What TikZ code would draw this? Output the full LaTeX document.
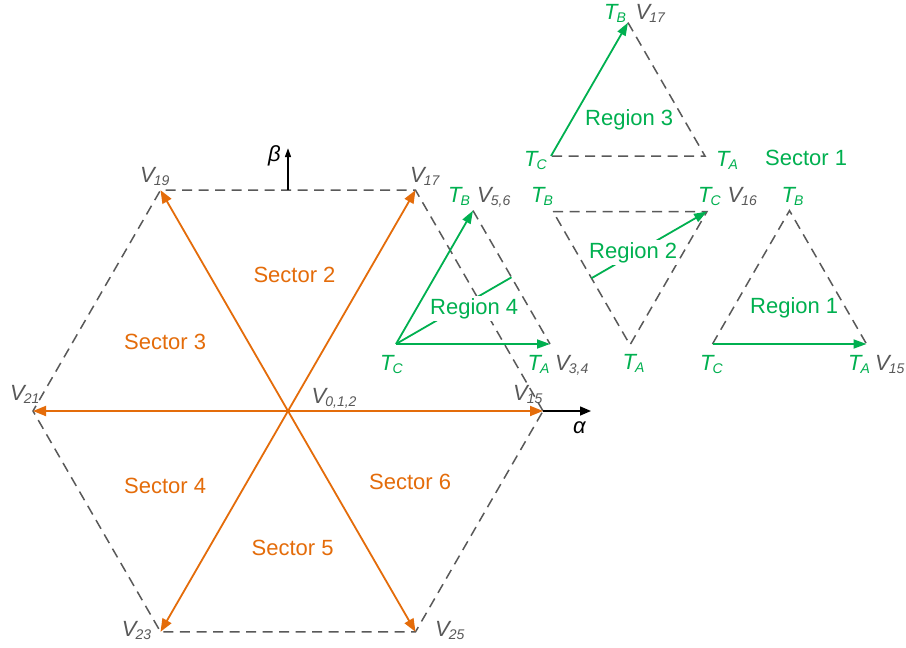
\documentclass[tikz,border=0pt]{standalone}
\usepackage{fontspec}
\setmainfont{Liberation Sans}
\usepackage{xcolor}
\usepackage{tikz}
\usetikzlibrary{arrows.meta, calc}

\definecolor{secorange}{RGB}{228,108,10}
\definecolor{reggreen}{RGB}{0,176,80}
\definecolor{dashgray}{RGB}{89,89,89}

% italic letter with a lowered italic index
\newcommand{\lsub}[2]{{\itshape #1}\kern-1pt\raisebox{-3pt}{\fontsize{14}{14}\selectfont\itshape #2}}

\begin{document}
\begin{tikzpicture}[x=1pt,y=-1pt,
  txt/.style={anchor=base west,inner sep=0pt,font=\fontsize{22}{26}\selectfont},
  vlbl/.style={txt,dashgray},
  tlbl/.style={txt,reggreen},
  seclbl/.style={txt,secorange},
  reglbl/.style={txt,reggreen,fill=white,inner sep=2pt},
  sector/.style={secorange,line width=1.8pt,-{Triangle[length=13pt,width=10pt]}},
  region/.style={reggreen,line width=1.8pt,-{Triangle[length=13pt,width=9pt]}},
  leader/.style={reggreen,line width=1.8pt},
  edge/.style={dashgray,line width=1.5pt,dash pattern=on 10pt off 6.5pt},
  axis/.style={black,line width=1.5pt,-{Triangle[length=11pt,width=9pt]}}]

  \path[use as bounding box,fill=white] (0,0) rectangle (906,648);

  % Hexagon center and corners
  \coordinate (O) at (288,411);
  \coordinate (V15) at ($(O)+(0:255)$);
  \coordinate (V17) at ($(O)+(-60:255)$);
  \coordinate (V19) at ($(O)+(-120:255)$);
  \coordinate (V21) at ($(O)+(180:255)$);
  \coordinate (V23) at ($(O)+(120:255)$);
  \coordinate (V25) at ($(O)+(60:255)$);

  % Outer hexagon
  \draw[edge] (V15) -- (V17) -- (V19) -- (V21) -- (V23) -- (V25) -- cycle;

  % Six active vectors
  \draw[sector] (O) -- (V15);
  \draw[sector] (O) -- (V17);
  \draw[sector] (O) -- (V19);
  \draw[sector] (O) -- (V21);
  \draw[sector] (O) -- (V23);
  \draw[sector] (O) -- (V25);

  % alpha and beta axes
  \coordinate (betaBase) at ($(V19)!0.5!(V17)$);
  \coordinate (betaTip) at ($(betaBase)+(0,-42)$);
  \coordinate (alphaTip) at ($(V15)+(48,0)$);
  \draw[axis,-{Triangle[length=9pt,width=6pt]}] (betaBase) -- (betaTip);
  \draw[axis] (V15) -- (alphaTip);
  \node[txt] (betaLbl) at (268,161) {\textit{β}};
  \node[txt] (alphaLbl) at (573,433) {\textit{α}};

  % Vector labels
  \node[vlbl] (lV19) at (140,182.3) {\lsub{V}{19}};
  \node[vlbl] (lV17) at (410,182.3) {\lsub{V}{17}};
  \node[vlbl] (lV21) at (10,400) {\lsub{V}{21}};
  \node[vlbl] (lV15) at (513,400.5) {\lsub{V}{15}};
  \node[vlbl] (lV0) at (311.5,403.3) {\lsub{V}{0,1,2}};
  \node[vlbl] (lV23) at (121.7,636.7) {\lsub{V}{23}};
  \node[vlbl] (lV25) at (435,636.5) {\lsub{V}{25}};

  % Sector names
  \node[seclbl] (sec2) at (253.3,282.7) {Sector 2};
  \node[seclbl] (sec3) at (124,349) {Sector 3};
  \node[seclbl] (sec4) at (124,493) {Sector 4};
  \node[seclbl] (sec5) at (251.5,555) {Sector 5};
  \node[seclbl] (sec6) at (369,489) {Sector 6};

  % Region 4 (B up, A right)
  \coordinate (r4C) at (396,344);
  \coordinate (r4A) at (550,344);
  \coordinate (r4B) at (473,210.6);
  \coordinate (r4M) at ($(r4B)!0.5!(r4A)$);
  \draw[edge] (r4B) -- (r4A);
  \draw[region] (r4C) -- (r4B);
  \draw[region] (r4C) -- (r4A);
  \draw[leader] (r4C) -- (r4M);
  \node[reglbl] (reg4) at (428,314) {Region 4};

  % Region 3
  \coordinate (r3C) at (551,156);
  \coordinate (r3A) at (705,156);
  \coordinate (r3B) at (628,22.6);
  \draw[edge] (r3B) -- (r3A) -- (r3C);
  \draw[region] (r3C) -- (r3B);
  \node[tlbl] (reg3) at (585,125) {Region 3};

  % Region 2 (upside down)
  \coordinate (r2B) at (553,211.5);
  \coordinate (r2C) at (707,211.5);
  \coordinate (r2A) at (630,344.9);
  \coordinate (r2M) at ($(r2B)!0.5!(r2A)$);
  \draw[edge] (r2B) -- (r2C) -- (r2A) -- cycle;
  \draw[region] (r2M) -- (r2C);
  \node[reglbl] (reg2) at (587,258.3) {Region 2};

  % Region 1
  \coordinate (r1C) at (712.5,344);
  \coordinate (r1A) at (866.5,344);
  \coordinate (r1B) at (789.5,210.6);
  \draw[edge] (r1C) -- (r1B) -- (r1A);
  \draw[region] (r1C) -- (r1A);
  \node[tlbl] (reg1) at (750,313.3) {Region 1};

  \node[tlbl] (sec1) at (765,165) {Sector 1};

  % Corner labels of the small triangles
  \node[tlbl] (r4BL) at (448,202) {\lsub{T}{B}};
  \node[vlbl] (r4BV) at (477,202) {\lsub{V}{5,6}};
  \node[tlbl] (r4CL) at (380,370) {\lsub{T}{C}};
  \node[tlbl] (r4AL) at (527.5,370) {\lsub{T}{A}};
  \node[vlbl] (r4AV) at (555,370) {\lsub{V}{3,4}};

  \node[tlbl] (r3BL) at (604,19.5) {\lsub{T}{B}};
  \node[vlbl] (r3BV) at (635.5,19.5) {\lsub{V}{17}};
  \node[tlbl] (r3CL) at (524,166) {\lsub{T}{C}};
  \node[tlbl] (r3AL) at (716,166.5) {\lsub{T}{A}};

  \node[tlbl] (r2BL) at (531,202) {\lsub{T}{B}};
  \node[tlbl] (r2CL) at (698,202.5) {\lsub{T}{C}};
  \node[vlbl] (r2CV) at (727.5,202.5) {\lsub{V}{16}};
  \node[tlbl] (r2AL) at (622.5,369) {\lsub{T}{A}};

  \node[tlbl] (r1BL) at (781.5,202.5) {\lsub{T}{B}};
  \node[tlbl] (r1CL) at (700,370) {\lsub{T}{C}};
  \node[tlbl] (r1AL) at (848,370) {\lsub{T}{A}};
  \node[vlbl] (r1AV) at (875,370) {\lsub{V}{15}};
\end{tikzpicture}
\end{document}
